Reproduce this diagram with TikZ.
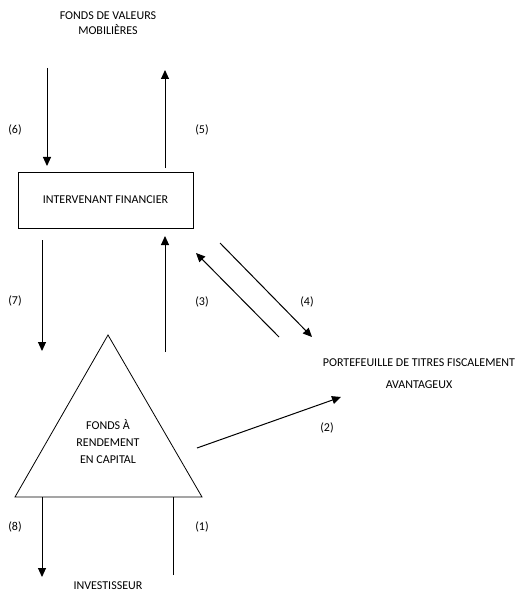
\documentclass[tikz,border=0pt]{standalone}
\usepackage{fontspec}
\setmainfont{Carlito}
\usetikzlibrary{arrows.meta}
\tikzset{
    lbl/.style={font=\fontsize{12bp}{15bp}\selectfont, inner sep=0pt},
    fleche/.style={-{Triangle[length=9bp, width=8bp]}, line width=1bp},
    trait/.style={line width=1bp}
}
\begin{document}
\begin{tikzpicture}[x=1bp, y=-1bp]
    \useasboundingbox (0,0) rectangle (519,592);

    % Fonds de valeurs mobilieres
    \node[lbl, align=center] (fvm) at (108,23) {FONDS DE VALEURS\\MOBILIÈRES};

    % Intervenant financier
    \node[draw, line width=0.8bp, minimum width=175bp, minimum height=56bp, lbl] (inter) at (105.5,200) {INTERVENANT FINANCIER};

    % Fonds a rendement en capital (triangle)
    \coordinate (som) at (108,335);
    \coordinate (bg) at (15,497);
    \coordinate (bd) at (202,497);
    \draw[line width=0.8bp] (som) -- (bd) -- (bg) -- cycle;
    \node[lbl, align=center] (frc) at (108,442) {FONDS À\\[2bp]RENDEMENT\\[2bp]EN CAPITAL};

    % Portefeuille
    \node[lbl] (pf1) at (419,363) {PORTEFEUILLE DE TITRES FISCALEMENT};
    \node[lbl] (pf2) at (419,385) {AVANTAGEUX};

    % Investisseur
    \node[lbl, anchor=north] (inv) at (108,582) {INVESTISSEUR};

    % Extremites des fleches
    \coordinate (d6) at (47,68);   \coordinate (f6) at (47,166);
    \coordinate (d5) at (165,168); \coordinate (f5) at (165,70);
    \coordinate (d7) at (42,240);  \coordinate (f7) at (42,351);
    \coordinate (dh) at (165,352); \coordinate (fh) at (165,236);
    \coordinate (d3) at (279,337); \coordinate (f3) at (196,253);
    \coordinate (d4) at (220,243); \coordinate (f4) at (312,337);
    \coordinate (d2) at (197,448); \coordinate (f2) at (341,397);
    \coordinate (d8) at (42,497);  \coordinate (f8) at (42,577);
    \coordinate (d1) at (173,575); \coordinate (f1) at (173,497);

    % Fleches
    \draw[fleche] (d6) -- (f6);
    \draw[fleche] (d5) -- (f5);
    \draw[fleche] (d7) -- (f7);
    \draw[fleche] (dh) -- (fh);
    \draw[fleche] (d3) -- (f3);
    \draw[fleche] (d4) -- (f4);
    \draw[fleche] (d2) -- (f2);
    \draw[fleche] (d8) -- (f8);
    \draw[trait] (d1) -- (f1);

    % Numeros
    \node[lbl] (n6) at (15,130) {(6)};
    \node[lbl] (n5) at (202,130) {(5)};
    \node[lbl] (n7) at (15,301) {(7)};
    \node[lbl] (n3) at (202,302) {(3)};
    \node[lbl] (n4) at (307,302) {(4)};
    \node[lbl] (n2) at (327,428) {(2)};
    \node[lbl] (n8) at (15,527) {(8)};
    \node[lbl] (n1) at (202,527) {(1)};
\end{tikzpicture}
\end{document}
